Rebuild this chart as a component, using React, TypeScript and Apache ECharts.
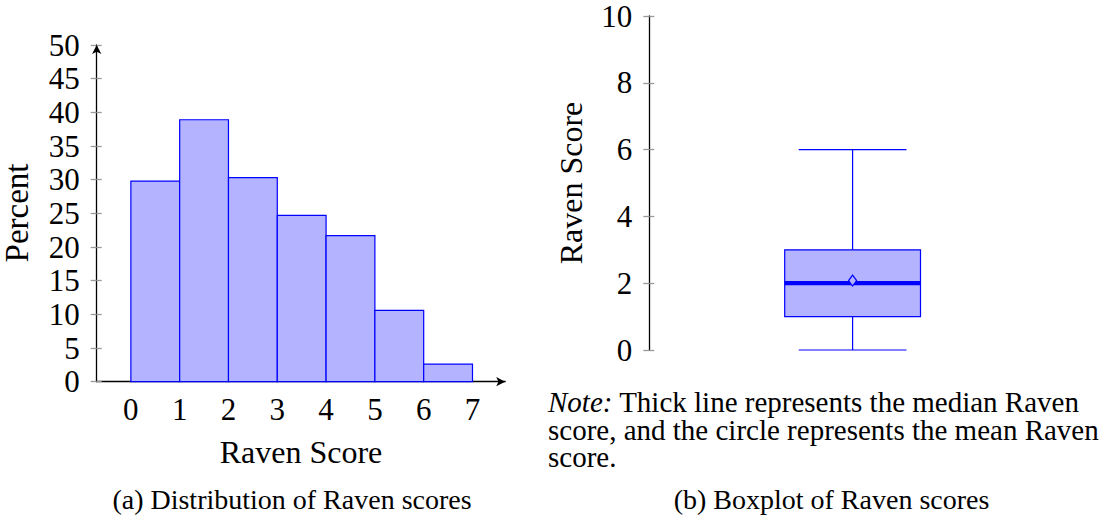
import React, { useEffect, useRef } from "react";
import * as echarts from "echarts";

// Histogram data (Raven score bins, percent)
const binStarts = [0, 1, 2, 3, 4, 5, 6];
const percents = [29.8, 38.9, 30.3, 24.7, 21.7, 10.6, 2.6];
const xTickValues = [0, 1, 2, 3, 4, 5, 6, 7];

// Boxplot data: [min, q1, median, q3, max]
const boxPosition = 1;
const boxStats = [0, 1, 2, 3, 6];
const boxMean = 2.08;

// Texts
const histYTitle = "Percent";
const histXTitle = "Raven Score";
const boxYTitle = "Raven Score";
const captionA = "(a) Distribution of Raven scores";
const captionB = "(b) Boxplot of Raven scores";
const noteLines = [
  "{i|Note:} Thick line represents the median Raven",
  "score, and the circle represents the mean Raven",
  "score.",
];

const FONT = "'Liberation Serif', 'Times New Roman', serif";
const BLUE = "#0000ff";
const FILL = "#b3b3ff";
const TICK = "#9a9a9a";

export default function App() {
  const ref = useRef<HTMLDivElement>(null);

  useEffect(() => {
    if (!ref.current) return;
    const chart = echarts.init(ref.current, undefined, { renderer: "svg" });

    const tickLabel = { color: "#000", fontSize: 31, fontFamily: FONT };

    const option: any = {
      animation: false,
      backgroundColor: "#fff",
      textStyle: { fontFamily: FONT },
      grid: [
        { left: 96.7, top: 45, width: 408.5, height: 336.7, outerBoundsMode: "none", containLabel: false },
        { left: 649.3, top: 16, width: 406.6, height: 334, outerBoundsMode: "none", containLabel: false },
      ],
      xAxis: [
        {
          gridIndex: 0,
          type: "value",
          min: -0.7,
          max: 7.67,
          axisLine: {
            show: true,
            onZero: false,
            lineStyle: { color: "#000", width: 1.3 },
            symbol: ["none", "arrow"],
            symbolSize: [7, 9],
          },
          axisTick: { show: false },
          splitLine: { show: false },
          axisLabel: { ...tickLabel, margin: 12, customValues: xTickValues },
        },
        {
          gridIndex: 1,
          type: "value",
          min: 0,
          max: 2,
          show: false,
        },
      ],
      yAxis: [
        {
          gridIndex: 0,
          type: "value",
          min: 0,
          max: 50,
          interval: 5,
          position: "left",
          axisLine: {
            show: true,
            onZero: false,
            lineStyle: { color: "#000", width: 1.3 },
            symbol: ["none", "arrow"],
            symbolSize: [7, 9],
          },
          axisTick: { show: true, length: 6, lineStyle: { color: TICK, width: 1.3 } },
          splitLine: { show: false },
          axisLabel: { ...tickLabel, margin: 17 },
        },
        {
          gridIndex: 0,
          type: "value",
          min: 0,
          max: 50,
          interval: 5,
          position: "left",
          offset: 0,
          axisLine: { show: false, onZero: false },
          axisTick: { show: true, inside: true, length: 5, lineStyle: { color: TICK, width: 1.3 } },
          splitLine: { show: false },
          axisLabel: { show: false },
        },
        {
          gridIndex: 1,
          type: "value",
          min: 0,
          max: 10,
          interval: 2,
          position: "left",
          axisLine: { show: true, onZero: false, lineStyle: { color: "#000", width: 1.3 } },
          axisTick: { show: true, length: 6, lineStyle: { color: TICK, width: 1.3 } },
          splitLine: { show: false },
          axisLabel: { ...tickLabel, margin: 17 },
        },
        {
          gridIndex: 1,
          type: "value",
          min: 0,
          max: 10,
          interval: 2,
          position: "left",
          offset: 0,
          axisLine: { show: false, onZero: false },
          axisTick: { show: true, inside: true, length: 5, lineStyle: { color: TICK, width: 1.3 } },
          splitLine: { show: false },
          axisLabel: { show: false },
        },
      ],
      series: [
        {
          type: "custom",
          xAxisIndex: 0,
          yAxisIndex: 0,
          data: binStarts.map((s, i) => [s, percents[i]]),
          encode: { x: 0, y: 1 },
          renderItem: (params: any, api: any) => {
            const s = api.value(0);
            const v = api.value(1);
            const p0 = api.coord([s, v]);
            const p1 = api.coord([s + 1, 0]);
            return {
              type: "rect",
              shape: { x: p0[0], y: p0[1], width: p1[0] - p0[0], height: p1[1] - p0[1] },
              style: { fill: FILL, stroke: BLUE, lineWidth: 1.2 },
            };
          },
        },
        {
          type: "custom",
          xAxisIndex: 1,
          yAxisIndex: 2,
          data: [[boxPosition, ...boxStats, boxMean]],
          encode: { x: 0, y: [1, 2, 3, 4, 5, 6] },
          renderItem: (params: any, api: any) => {
            const x = api.value(0);
            const vMin = api.value(1);
            const q1 = api.value(2);
            const med = api.value(3);
            const q3 = api.value(4);
            const vMax = api.value(5);
            const mean = api.value(6);
            const boxHalf = 0.334;
            const capHalf = 0.265;
            const c = (a: number, b: number) => api.coord([a, b]);
            const pMin = c(x, vMin);
            const pMax = c(x, vMax);
            const pQ1L = c(x - boxHalf, q1);
            const pQ3R = c(x + boxHalf, q3);
            const pQ1 = c(x, q1);
            const pQ3 = c(x, q3);
            const capL = c(x - capHalf, 0)[0];
            const capR = c(x + capHalf, 0)[0];
            const medY = c(x, med)[1];
            const pMean = c(x, mean);
            const ln = { stroke: BLUE, lineWidth: 1.2 };
            return {
              type: "group",
              children: [
                { type: "line", shape: { x1: pQ3[0], y1: pQ3[1], x2: pMax[0], y2: pMax[1] }, style: ln },
                { type: "line", shape: { x1: pQ1[0], y1: pQ1[1], x2: pMin[0], y2: pMin[1] }, style: ln },
                { type: "line", shape: { x1: capL, y1: pMax[1], x2: capR, y2: pMax[1] }, style: ln },
                { type: "line", shape: { x1: capL, y1: pMin[1], x2: capR, y2: pMin[1] }, style: ln },
                {
                  type: "rect",
                  shape: { x: pQ1L[0], y: pQ3R[1], width: pQ3R[0] - pQ1L[0], height: pQ1L[1] - pQ3R[1] },
                  style: { fill: FILL, stroke: BLUE, lineWidth: 1.2 },
                },
                {
                  type: "line",
                  shape: { x1: pQ1L[0], y1: medY, x2: pQ3R[0], y2: medY },
                  style: { stroke: BLUE, lineWidth: 4.2 },
                },
                {
                  type: "polygon",
                  shape: {
                    points: [
                      [pMean[0], pMean[1] - 5.5],
                      [pMean[0] + 4, pMean[1]],
                      [pMean[0], pMean[1] + 5.5],
                      [pMean[0] - 4, pMean[1]],
                    ],
                  },
                  style: { fill: FILL, stroke: BLUE, lineWidth: 1.2 },
                },
              ],
            };
          },
        },
      ],
      graphic: [
        {
          type: "text",
          x: 17.4,
          y: 213,
          rotation: Math.PI / 2,
          style: { text: histYTitle, fontSize: 33, fontFamily: FONT, fill: "#000", align: "center", verticalAlign: "middle" },
        },
        {
          type: "text",
          x: 301,
          y: 452,
          style: { text: histXTitle, fontSize: 32, fontFamily: FONT, fill: "#000", align: "center", verticalAlign: "middle" },
        },
        {
          type: "text",
          x: 570.8,
          y: 183,
          rotation: Math.PI / 2,
          style: { text: boxYTitle, fontSize: 32, fontFamily: FONT, fill: "#000", align: "center", verticalAlign: "middle" },
        },
        {
          type: "text",
          x: 292,
          y: 499,
          style: { text: captionA, fontSize: 28, fontFamily: FONT, fill: "#000", align: "center", verticalAlign: "middle" },
        },
        {
          type: "text",
          x: 831.5,
          y: 499,
          style: { text: captionB, fontSize: 28, fontFamily: FONT, fill: "#000", align: "center", verticalAlign: "middle" },
        },
        {
          type: "text",
          x: 548,
          y: 388.2,
          style: {
            text: noteLines.join("\n"),
            fontSize: 29,
            lineHeight: 27.7,
            fontFamily: FONT,
            fill: "#000",
            align: "left",
            verticalAlign: "top",
            rich: { i: { fontStyle: "italic", fontSize: 29, lineHeight: 27.7, fontFamily: FONT, fill: "#000" } },
          },
        },
      ],
    };

    chart.setOption(option);
    return () => chart.dispose();
  }, []);

  return (
    <div
      ref={ref}
      style={{ position: "absolute", left: 0, top: 0, width: 1103, height: 519, background: "#fff" }}
    />
  );
}
